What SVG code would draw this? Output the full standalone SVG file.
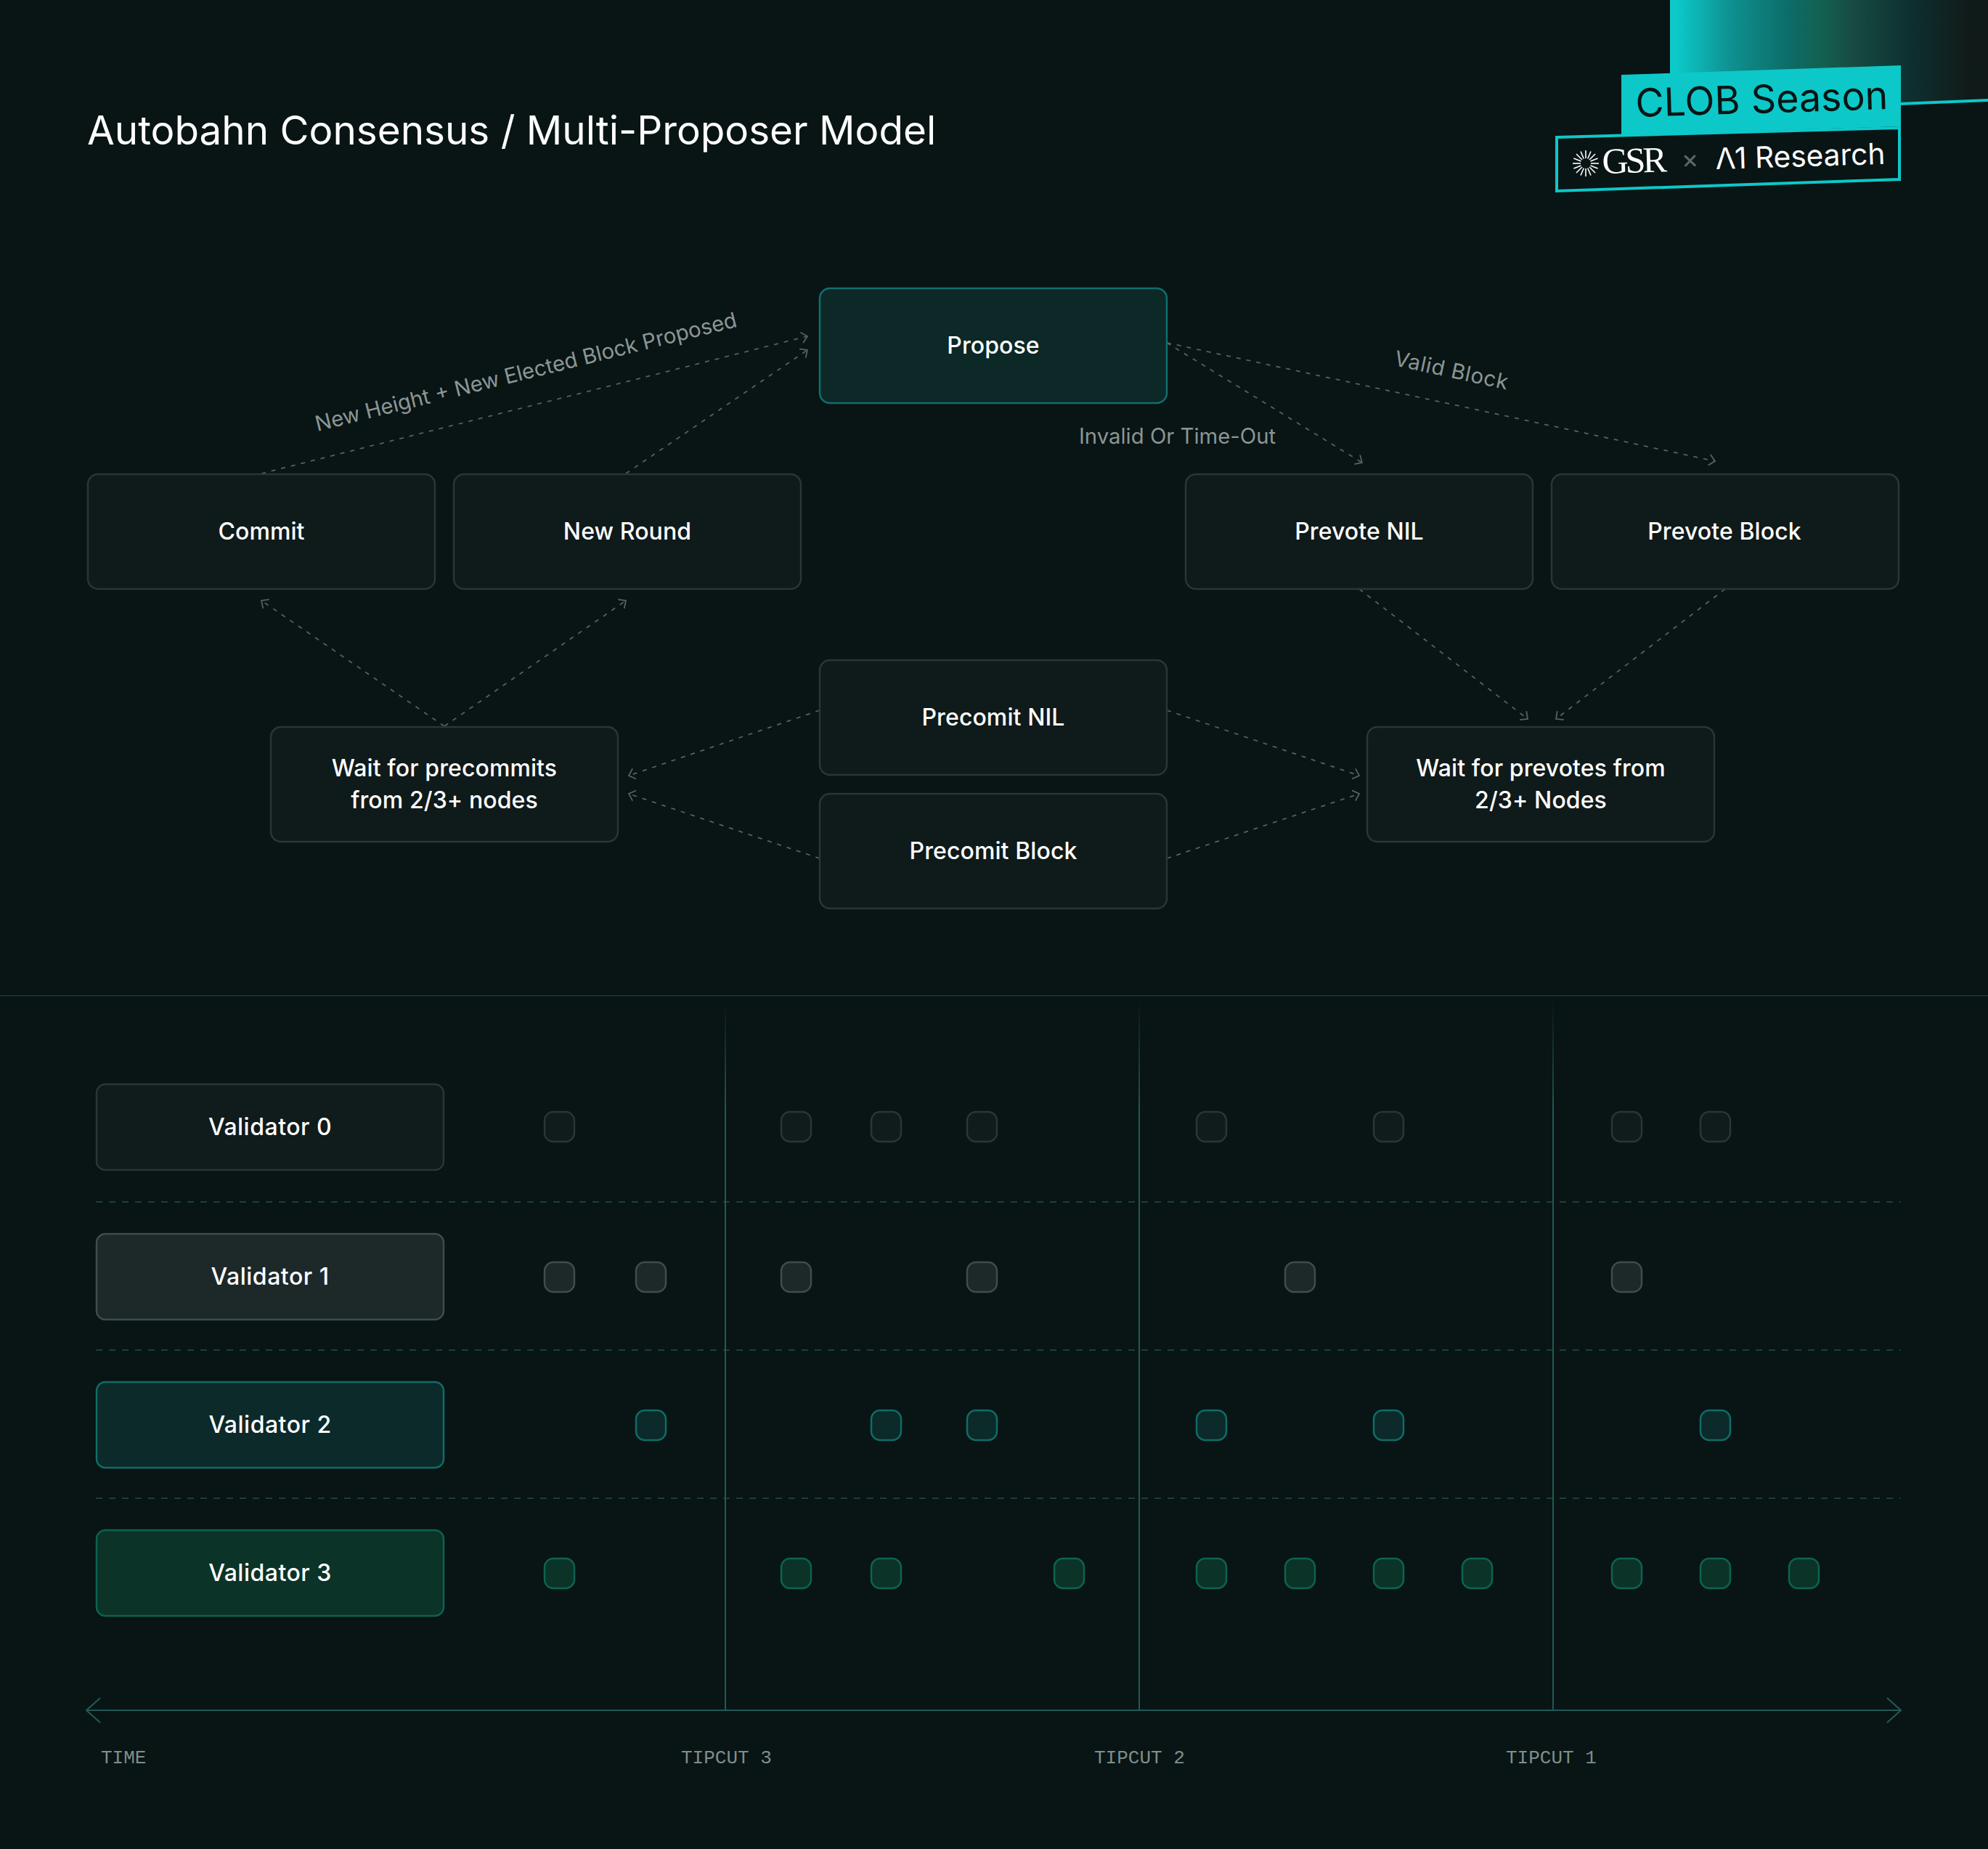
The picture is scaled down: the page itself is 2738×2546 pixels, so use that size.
<svg xmlns="http://www.w3.org/2000/svg" width="2738" height="2546" viewBox="0 0 2738 2546">
<style>
text{font-family:"Inter","Liberation Sans",sans-serif;}
.lbl{font-size:32px;fill:#fff;text-anchor:middle;font-weight:450;letter-spacing:.1px;}
.val{letter-spacing:.5px;}
.edge{font-size:29.3px;fill:#8b9695;}
.mono{font-family:"Liberation Mono",monospace;font-size:26px;fill:#7f8e8c;}
.n{fill:#0f1a1a;stroke:#2a3536;stroke-width:2.5;}
.p{fill:#0c2827;stroke:#0f6f6d;stroke-width:2.5;}
.v0{fill:#101b1b;stroke:#2a3536;stroke-width:2.5;}
.v1{fill:#1d2829;stroke:#3f4c4c;stroke-width:2.5;}
.v2{fill:#0c2a2a;stroke:#0d6d68;stroke-width:2.5;}
.v3{fill:#0c3327;stroke:#0c6350;stroke-width:2.5;}
.c line{stroke:#54625f;stroke-width:1.8;stroke-dasharray:6 8;fill:none;marker-end:url(#ah);}
.row{stroke:#17403e;stroke-width:2;stroke-dasharray:9 9;}
.burst line{stroke:#fff;stroke-width:1.6;}
</style>
<defs>
<marker id="ah" markerUnits="userSpaceOnUse" markerWidth="24" markerHeight="24" refX="12" refY="12" orient="auto" overflow="visible"><path d="M4 4.5L12 12L4 19.5" fill="none" stroke="#54625f" stroke-width="1.8"/></marker>
<linearGradient id="vg" gradientUnits="userSpaceOnUse" x1="0" y1="1375" x2="0" y2="1530"><stop offset="0" stop-color="#1f5a55" stop-opacity="0"/><stop offset="1" stop-color="#1f5a55"/></linearGradient>
<linearGradient id="corner" gradientUnits="userSpaceOnUse" x1="2300" y1="0" x2="2738" y2="0"><stop offset="0.02" stop-color="#0cc9c9"/><stop offset="0.19" stop-color="#0e9190"/><stop offset="0.38" stop-color="#0d6b66"/><stop offset="0.48" stop-color="#14604f"/><stop offset="0.58" stop-color="#174a42"/><stop offset="0.75" stop-color="#0e3030"/><stop offset="0.95" stop-color="#101a18"/></linearGradient>
</defs>
<rect width="2738" height="2546" fill="#091414"/>
<text id="title" x="120" y="198.5" font-size="54.8" fill="#fff">Autobahn Consensus / Multi-Proposer Model</text>
<g id="logo">
<polygon points="2300,0 2738,0 2738,138 2618,143 2618,150 2300,150" fill="url(#corner)"/>
<line x1="2616" y1="143" x2="2738" y2="138" stroke="#0dc8c8" stroke-width="4"/>
<polygon points="2144,189 2616,176 2616,247 2144,263" fill="#091414" stroke="#0dc8c8" stroke-width="4"/>
<polygon points="2233,103 2618,90 2618,174 2233,186" fill="#0dc8c8"/>
<text x="2253" y="161" transform="rotate(-1.8 2253 161)" font-size="53.7" fill="#091414">CLOB Season</text>
<g class="burst" id="burst"><line x1="2191" y1="225" x2="2202" y2="225"/><line x1="2190.5" y1="228" x2="2200.6" y2="232"/><line x1="2189" y1="230" x2="2197" y2="238"/><line x1="2186.7" y1="231.5" x2="2191" y2="241.5"/><line x1="2184" y1="232" x2="2184" y2="243"/><line x1="2181.3" y1="231.5" x2="2177" y2="241.5"/><line x1="2179" y1="230" x2="2171" y2="238"/><line x1="2177.5" y1="228" x2="2167.4" y2="232"/><line x1="2177" y1="225" x2="2166" y2="225"/><line x1="2177.5" y1="222" x2="2167.4" y2="218"/><line x1="2179" y1="220" x2="2171" y2="212"/><line x1="2181.3" y1="218.5" x2="2177" y2="208.5"/><line x1="2184" y1="218" x2="2184" y2="207"/><line x1="2186.7" y1="218.5" x2="2191" y2="208.5"/><line x1="2189" y1="220" x2="2197" y2="212"/><line x1="2190.5" y1="222" x2="2200.6" y2="218"/></g>
<text x="2207" y="239" transform="rotate(-1.8 2207 239)" style="font-family:'Liberation Serif',serif;letter-spacing:-4px" font-size="50" fill="#fff">GSR</text>
<text x="2316" y="232" transform="rotate(-1.8 2316 232)" font-size="36" fill="#5c6866">×</text>
<text x="2363" y="233" transform="rotate(-1.8 2363 233)" font-size="40.6" fill="#fff">Λ1 Research</text>
</g>
<g id="connectors" class="c">
<line x1="360" y1="652" x2="1112" y2="463"/>
<line x1="862" y1="652" x2="1112" y2="482"/>
<line x1="1607" y1="472" x2="1876" y2="637"/>
<line x1="1607" y1="472" x2="2362" y2="635"/>
<line x1="612" y1="1000" x2="360" y2="827"/>
<line x1="612" y1="1000" x2="862" y2="827"/>
<line x1="1872" y1="811" x2="2104" y2="990"/>
<line x1="2376" y1="811" x2="2143" y2="990"/>
<line x1="1129" y1="978" x2="866" y2="1068"/>
<line x1="1129" y1="1182" x2="866" y2="1093"/>
<line x1="1607" y1="978" x2="1872" y2="1068"/>
<line x1="1607" y1="1182" x2="1872" y2="1093"/>
</g>
<text class="edge" x="437" y="594" transform="rotate(-14 437 594)">New Height + New Elected Block Proposed</text>
<text class="edge" x="1919" y="503" transform="rotate(12.2 1919 503)" style="letter-spacing:.7px">Valid Block</text>
<text class="edge" x="1486" y="610.5">Invalid Or Time-Out</text>
<g id="propose"><rect class="p" x="1129" y="397" width="478" height="158" rx="14"/><text class="lbl" x="1368" y="487">Propose</text></g>
<g id="commit"><rect class="n" x="121" y="653" width="478" height="158" rx="14"/><text class="lbl" x="360" y="743">Commit</text></g>
<g id="new-round"><rect class="n" x="625" y="653" width="478" height="158" rx="14"/><text class="lbl" x="864" y="743">New Round</text></g>
<g id="prevote-nil"><rect class="n" x="1633" y="653" width="478" height="158" rx="14"/><text class="lbl" x="1872" y="743">Prevote NIL</text></g>
<g id="prevote-block"><rect class="n" x="2137" y="653" width="478" height="158" rx="14"/><text class="lbl" x="2375" y="743">Prevote Block</text></g>
<g id="wait-precommits"><rect class="n" x="373" y="1001" width="478" height="158" rx="14"/><text class="lbl" x="612" y="1069">Wait for precommits</text><text class="lbl" x="612" y="1113">from 2/3+ nodes</text></g>
<g id="wait-prevotes"><rect class="n" x="1883" y="1001" width="478" height="158" rx="14"/><text class="lbl" x="2122" y="1069">Wait for prevotes from</text><text class="lbl" x="2122" y="1113">2/3+ Nodes</text></g>
<g id="precommit-nil"><rect class="n" x="1129" y="909" width="478" height="158" rx="14"/><text class="lbl" x="1368" y="999">Precomit NIL</text></g>
<g id="precommit-block"><rect class="n" x="1129" y="1093" width="478" height="158" rx="14"/><text class="lbl" x="1368" y="1183">Precomit Block</text></g>
<line id="divider" x1="0" y1="1371" x2="2738" y2="1371" stroke="#15302f" stroke-width="2"/>
<g id="row-lines"><line class="row" x1="132" y1="1655" x2="2618" y2="1655"/><line class="row" x1="132" y1="1859" x2="2618" y2="1859"/><line class="row" x1="132" y1="2063" x2="2618" y2="2063"/></g>
<g id="tipcut-lines" stroke="url(#vg)" stroke-width="2"><line x1="999" y1="1375" x2="999" y2="2355"/><line x1="1569" y1="1375" x2="1569" y2="2355"/><line x1="2139" y1="1375" x2="2139" y2="2355"/></g>
<g id="axis" fill="none" stroke="#1f5a55" stroke-width="2.2"><line x1="119" y1="2355" x2="2618" y2="2355"/><path d="M138 2338L119 2355L138 2372"/><path d="M2599 2338L2618 2355L2599 2372"/></g>
<g id="validator-0"><rect class="v0" x="133" y="1493" width="478" height="118" rx="12"/><text class="lbl val" x="372" y="1563">Validator 0</text></g>
<g id="validator-1"><rect class="v1" x="133" y="1699" width="478" height="118" rx="12"/><text class="lbl val" x="372" y="1769">Validator 1</text></g>
<g id="validator-2"><rect class="v2" x="133" y="1903" width="478" height="118" rx="12"/><text class="lbl val" x="372" y="1973">Validator 2</text></g>
<g id="validator-3"><rect class="v3" x="133" y="2107" width="478" height="118" rx="12"/><text class="lbl val" x="372" y="2177">Validator 3</text></g>
<g id="slots-0" class="v0"><rect x="750" y="1531" width="41" height="41" rx="12"/><rect x="1076" y="1531" width="41" height="41" rx="12"/><rect x="1200" y="1531" width="41" height="41" rx="12"/><rect x="1332" y="1531" width="41" height="41" rx="12"/><rect x="1648" y="1531" width="41" height="41" rx="12"/><rect x="1892" y="1531" width="41" height="41" rx="12"/><rect x="2220" y="1531" width="41" height="41" rx="12"/><rect x="2342" y="1531" width="41" height="41" rx="12"/></g>
<g id="slots-1" class="v1"><rect x="750" y="1738" width="41" height="41" rx="12"/><rect x="876" y="1738" width="41" height="41" rx="12"/><rect x="1076" y="1738" width="41" height="41" rx="12"/><rect x="1332" y="1738" width="41" height="41" rx="12"/><rect x="1770" y="1738" width="41" height="41" rx="12"/><rect x="2220" y="1738" width="41" height="41" rx="12"/></g>
<g id="slots-2" class="v2"><rect x="876" y="1942" width="41" height="41" rx="12"/><rect x="1200" y="1942" width="41" height="41" rx="12"/><rect x="1332" y="1942" width="41" height="41" rx="12"/><rect x="1648" y="1942" width="41" height="41" rx="12"/><rect x="1892" y="1942" width="41" height="41" rx="12"/><rect x="2342" y="1942" width="41" height="41" rx="12"/></g>
<g id="slots-3" class="v3"><rect x="750" y="2146" width="41" height="41" rx="12"/><rect x="1076" y="2146" width="41" height="41" rx="12"/><rect x="1200" y="2146" width="41" height="41" rx="12"/><rect x="1452" y="2146" width="41" height="41" rx="12"/><rect x="1648" y="2146" width="41" height="41" rx="12"/><rect x="1770" y="2146" width="41" height="41" rx="12"/><rect x="1892" y="2146" width="41" height="41" rx="12"/><rect x="2014" y="2146" width="41" height="41" rx="12"/><rect x="2220" y="2146" width="41" height="41" rx="12"/><rect x="2342" y="2146" width="41" height="41" rx="12"/><rect x="2464" y="2146" width="41" height="41" rx="12"/></g>
<g id="axis-labels"><text class="mono" x="139" y="2428">TIME</text><text class="mono" x="938" y="2428">TIPCUT 3</text><text class="mono" x="1507" y="2428">TIPCUT 2</text><text class="mono" x="2074" y="2428">TIPCUT 1</text></g>
</svg>
